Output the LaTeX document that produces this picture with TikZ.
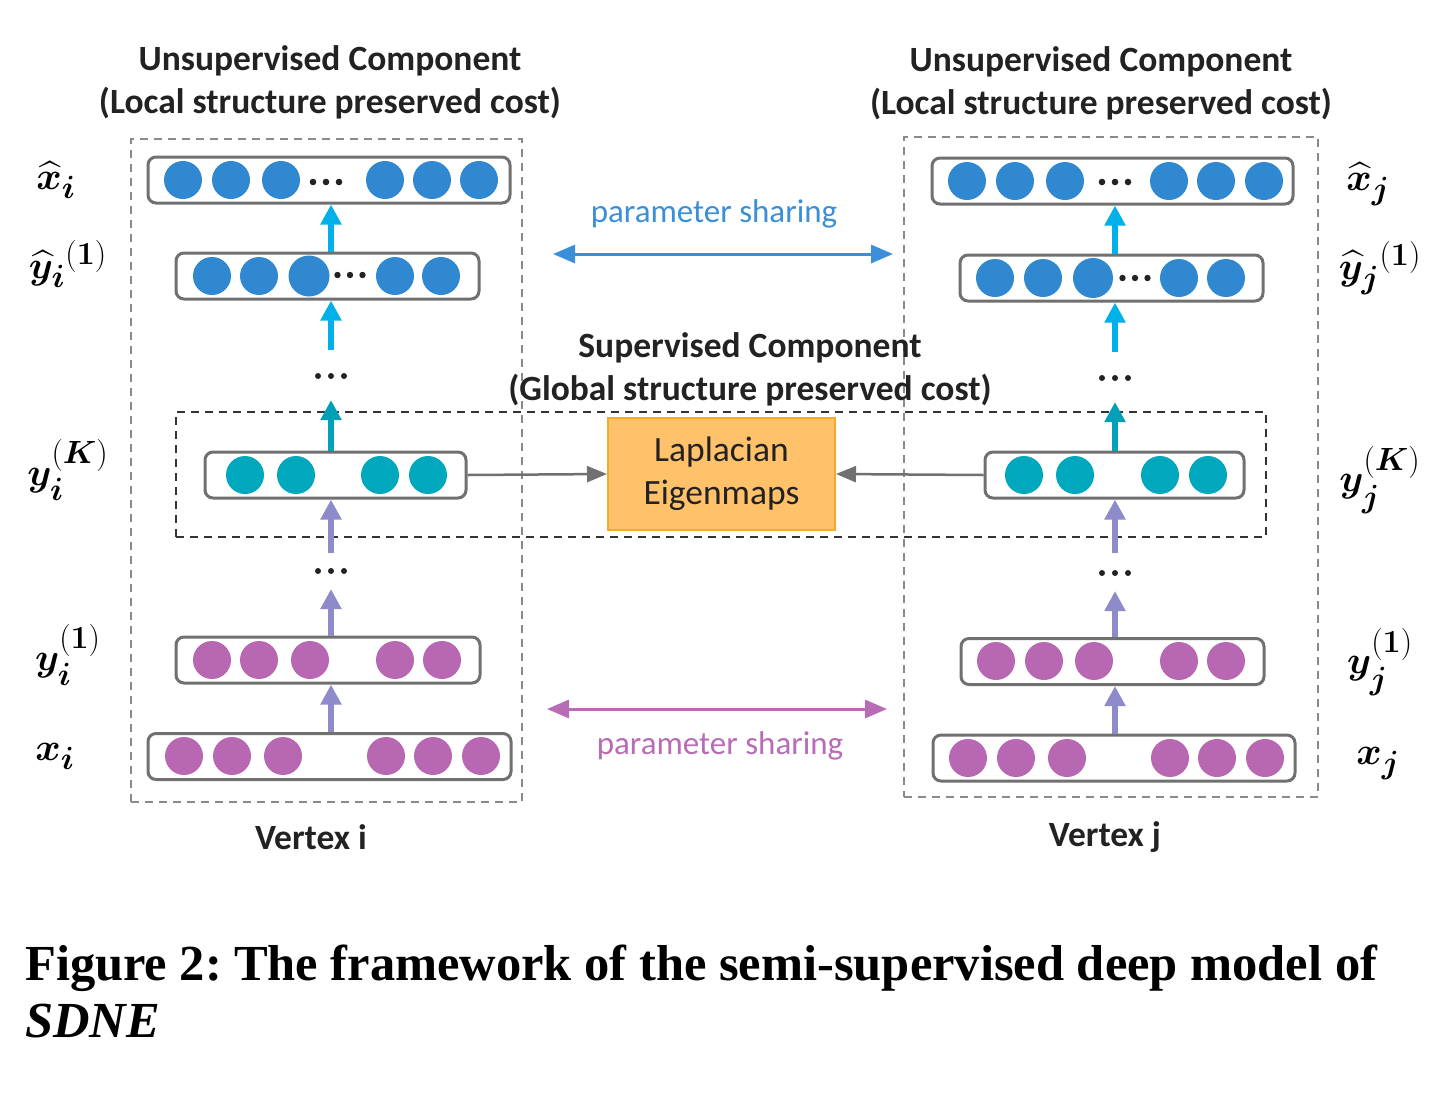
\documentclass[tikz,border=0pt]{standalone}
\usepackage{graphicx}
\usepackage{amsmath,bm}
\usepackage{fontspec}
\setmainfont{Carlito}
\newfontfamily\capfont{Liberation Serif}
\usetikzlibrary{arrows.meta}
\definecolor{bluec}{HTML}{3088D0}
\definecolor{cyanA}{HTML}{00B0E8}
\definecolor{tealc}{HTML}{00A8BE}
\definecolor{tealA}{HTML}{00A0B8}
\definecolor{purc}{HTML}{B867B2}
\definecolor{lavA}{HTML}{8E8BCB}
\definecolor{boxgray}{HTML}{707070}
\definecolor{dashgray}{HTML}{8A8A8A}
\definecolor{orangeF}{HTML}{FFC26A}
\definecolor{orangeB}{HTML}{F6A828}
\definecolor{psblue}{HTML}{3A8FD8}
\definecolor{pspur}{HTML}{B86CB6}
\definecolor{txt}{HTML}{222222}
\tikzset{
  layer/.style={draw=boxgray, line width=3pt, rounded corners=8pt, fill=white, minimum height=46pt, inner sep=0pt},
  vbox/.style={draw=dashgray, line width=2pt, dash pattern=on 8pt off 6pt, inner sep=0pt},
  sbox/.style={draw=black!80, line width=2pt, dash pattern=on 8pt off 6pt, inner sep=0pt},
  neuron/.style={circle, inner sep=0pt, minimum size=38pt},
  uparrow/.style={line width=6pt, -{Triangle[width=20pt,length=20pt]}},
  grayarrow/.style={draw=boxgray, line width=2.5pt, -{Triangle[width=16pt,length=20pt]}},
  psarrow/.style={line width=3pt, {Triangle[width=18pt,length=22pt]}-{Triangle[width=18pt,length=22pt]}},
  head/.style={font=\fontsize{35.5}{43}\selectfont\bfseries, text=txt, align=center},
  mlab/.style={font=\Huge, inner sep=0pt},
  pstext/.style={font=\fontsize{33}{36}\selectfont},
  dotn/.style={inner sep=0pt, minimum size=1pt},
}
\newcommand{\mlabel}[1]{\scalebox{1.55}{$#1$}}
\newcommand{\tdots}[4]{% x y spacing radius
  \fill[txt] (#1-#3,#2) circle (#4) (#1,#2) circle (#4) (#1+#3,#2) circle (#4);}
\begin{document}
\begin{tikzpicture}[x=1pt,y=-1pt]
\useasboundingbox (0,0) rectangle (1454,1096);
% dashed frames
\node[vbox, minimum width=391pt, minimum height=663pt] (vi) at (326.5,470.5) {};
\node[vbox, minimum width=414pt, minimum height=660pt] (vj) at (1111,467) {};
\node[sbox, minimum width=1090pt, minimum height=125pt] (sup) at (721,474.5) {};
% headings
\node[head] (hl) at (330,82) {Unsupervised Component\\(Local structure preserved cost)};
\node[head] (hr) at (1101,83) {Unsupervised Component\\(Local structure preserved cost)};
\node[head] (hs) at (750,369) {Supervised Component\\(Global structure preserved cost)};
\node[head] (vxi) at (311,837) {Vertex i};
\node[head] (vxj) at (1105,837) {Vertex j};
% left column layers
\node[layer, minimum width=362pt] (xhi) at (329,180) {};
\node[layer, minimum width=303pt] (yhi) at (327.5,276) {};
\node[layer, minimum width=261pt] (yKi) at (335.5,475) {};
\node[layer, minimum width=304pt] (y1i) at (328,660) {};
\node[layer, minimum width=363pt] (xi) at (329.5,756.5) {};
% right column layers
\node[layer, minimum width=361pt] (xhj) at (1112.5,181) {};
\node[layer, minimum width=303pt] (yhj) at (1111.5,278) {};
\node[layer, minimum width=259pt] (yKj) at (1114.5,475) {};
\node[layer, minimum width=303pt] (y1j) at (1112.5,661.5) {};
\node[layer, minimum width=362pt] (xj) at (1114,758) {};
% neurons left
\foreach \x [count=\k] in {183,231,281,385,432,479} \node[neuron, fill=bluec] (xhin\k) at (\x,180) {};
\foreach \x [count=\k] in {212,259,395,441} \node[neuron, fill=bluec] (yhin\k) at (\x,276) {};
\node[neuron, fill=bluec, minimum size=41pt] (yhin5) at (309,276) {};
\foreach \x [count=\k] in {245,296,380,428} \node[neuron, fill=tealc] (yKin\k) at (\x,475) {};
\foreach \x [count=\k] in {212,259,310,395,442} \node[neuron, fill=purc] (y1in\k) at (\x,660) {};
\foreach \x [count=\k] in {184,232,283,386,433,481} \node[neuron, fill=purc] (xin\k) at (\x,756) {};
% neurons right
\foreach \x [count=\k] in {967,1015,1065,1169,1216,1264} \node[neuron, fill=bluec] (xhjn\k) at (\x,181) {};
\foreach \x [count=\k] in {995,1043,1179,1226} \node[neuron, fill=bluec] (yhjn\k) at (\x,278) {};
\node[neuron, fill=bluec, minimum size=40pt] (yhjn5) at (1093,278) {};
\foreach \x [count=\k] in {1024,1075,1160,1208} \node[neuron, fill=tealc] (yKjn\k) at (\x,475) {};
\foreach \x [count=\k] in {996,1044,1094,1179,1226} \node[neuron, fill=purc] (y1jn\k) at (\x,661) {};
\foreach \x [count=\k] in {968,1016,1067,1170,1217,1265} \node[neuron, fill=purc] (xjn\k) at (\x,758) {};
% in-row dots
\tdots{326}{182}{13}{3.3}
\tdots{350}{275}{12.5}{3.2}
\tdots{1115}{182}{13}{3.3}
\tdots{1135}{278}{12.5}{3.2}
% column dots nodes
\coordinate (colL) at (331,0);
\coordinate (colR) at (1115,0);
\node[dotn] (dLh) at (331,376) {};
\node[dotn] (dLl) at (331,571) {};
\node[dotn] (dRh) at (1115,378) {};
\node[dotn] (dRl) at (1115,573) {};
\tdots{331}{376}{13}{3}
\tdots{331}{571}{13}{3}
\tdots{1115}{378}{13}{3}
\tdots{1115}{573}{13}{3}
% vertical arrows left
\draw[uparrow, draw=lavA] (xi.north -| colL) -- (y1i.south -| colL);
\draw[uparrow, draw=lavA] (y1i.north -| colL) -- ([yshift=-18pt]dLl.center);
\draw[uparrow, draw=lavA] ([yshift=18pt]dLl.center) -- (yKi.south -| colL);
\draw[uparrow, draw=tealA] (yKi.north -| colL) -- ([yshift=-24pt]dLh.center);
\draw[uparrow, draw=cyanA] ([yshift=26pt]dLh.center) -- (yhi.south -| colL);
\draw[uparrow, draw=cyanA] (yhi.north -| colL) -- (xhi.south -| colL);
% vertical arrows right
\draw[uparrow, draw=lavA] (xj.north -| colR) -- (y1j.south -| colR);
\draw[uparrow, draw=lavA] (y1j.north -| colR) -- ([yshift=-18pt]dRl.center);
\draw[uparrow, draw=lavA] ([yshift=20pt]dRl.center) -- (yKj.south -| colR);
\draw[uparrow, draw=tealA] (yKj.north -| colR) -- ([yshift=-24pt]dRh.center);
\draw[uparrow, draw=cyanA] ([yshift=26pt]dRh.center) -- (yhj.south -| colR);
\draw[uparrow, draw=cyanA] (yhj.north -| colR) -- (xhj.south -| colR);
% Laplacian
\node[draw=orangeB, fill=orangeF, line width=2pt, minimum width=227pt, minimum height=112pt, align=center, font=\fontsize{35.5}{43}\selectfont, text=txt] (lap) at (721.5,474) {Laplacian\\Eigenmaps};
\draw[grayarrow] (yKi.east) -- (lap.west);
\draw[grayarrow] (yKj.west) -- (lap.east);
% parameter sharing
\coordinate (pbL) at (553,254);
\coordinate (pbR) at (893,254);
\coordinate (ppL) at (547,709);
\coordinate (ppR) at (887,709);
\draw[psarrow, draw=psblue, fill=psblue] (pbL) -- (pbR);
\draw[psarrow, draw=pspur, fill=pspur] (ppL) -- (ppR);
\node[pstext, text=psblue] (pst) at (714,214) {parameter sharing};
\node[pstext, text=pspur] (psb) at (720,746) {parameter sharing};
% math labels
\node[mlab] (lxhi) at (56,180) {\mlabel{\widehat{\bm{x}}_{\bm{i}}}};
\node[mlab] (lyhi) at (68,264) {\mlabel{\widehat{\bm{y}}_{\bm{i}}{}^{(\bm{1})}}};
\node[mlab] (lyKi) at (68,470) {\mlabel{\bm{y}_{\bm{i}}^{(\bm{K})}}};
\node[mlab] (ly1i) at (68,655) {\mlabel{\bm{y}_{\bm{i}}^{(\bm{1})}}};
\node[mlab] (lxi) at (55,756) {\mlabel{\bm{x}_{\bm{i}}}};
\node[mlab] (lxhj) at (1368,184) {\mlabel{\widehat{\bm{x}}_{\bm{j}}}};
\node[mlab] (lyhj) at (1380,268) {\mlabel{\widehat{\bm{y}}_{\bm{j}}{}^{(\bm{1})}}};
\node[mlab] (lyKj) at (1380,480) {\mlabel{\bm{y}_{\bm{j}}^{(\bm{K})}}};
\node[mlab] (ly1j) at (1380,662) {\mlabel{\bm{y}_{\bm{j}}^{(\bm{1})}}};
\node[mlab] (lxj) at (1378,764) {\mlabel{\bm{x}_{\bm{j}}}};
% caption
\node[anchor=base west, inner sep=0pt, font=\capfont\fontsize{50.5}{56}\selectfont\bfseries] (cap1) at (25,980) {Figure 2:\hspace{12pt}The framework of the semi-supervised deep model of};
\node[anchor=base west, inner sep=0pt, font=\capfont\fontsize{50.5}{56}\selectfont\bfseries\itshape] (cap2) at (25,1037) {SDNE};
\end{tikzpicture}
\end{document}
